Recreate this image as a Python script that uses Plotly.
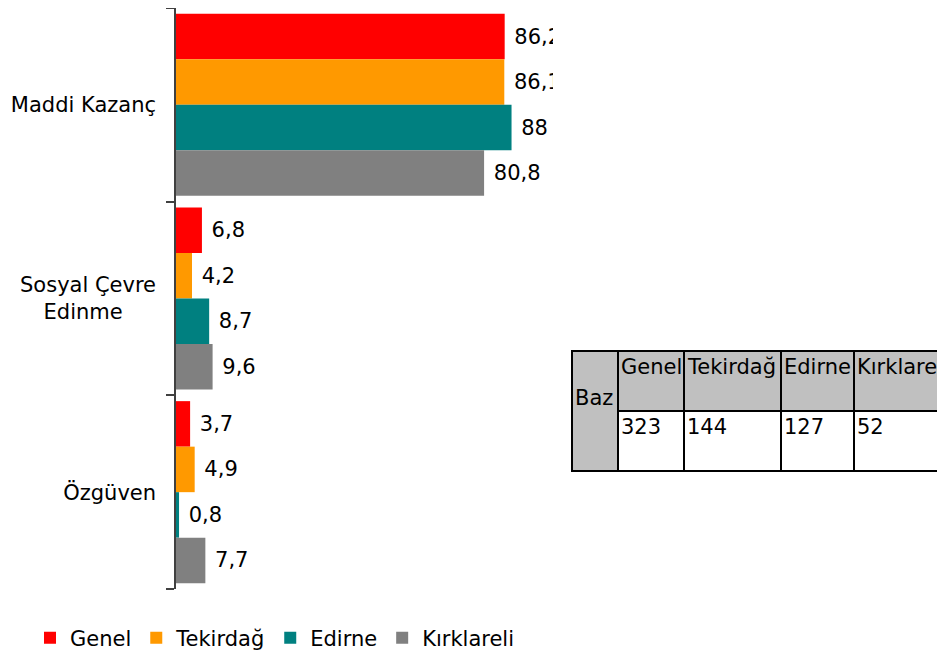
import plotly.graph_objects as go

categories = ["Maddi Kazanç", "Sosyal Çevre Edinme", "Özgüven"]
category_labels = ["Maddi Kazanç", "Sosyal Çevre<br>Edinme" + "\u00a0" * 5, "Özgüven"]
series_names = ["Genel", "Tekirdağ", "Edirne", "Kırklareli"]
genel = [86.2, 6.8, 3.7]
tekirdag = [86.1, 4.2, 4.9]
edirne = [88.0, 8.7, 0.8]
kirklareli = [80.8, 9.6, 7.7]
colors = ["#FF0000", "#FF9900", "#008080", "#808080"]

table_header = ["Genel", "Tekirdağ", "Edirne", "Kırklareli"]
table_values = ["323", "144", "127", "52"]
table_row_label = "Baz"

FONT = "DejaVu Sans, Verdana, sans-serif"
FS = 21

def fmt(v):
    s = f"{v:g}".replace(".", ",")
    return " " + s

fig = go.Figure()
for name, vals, col in zip(series_names, [genel, tekirdag, edirne, kirklareli], colors):
    fig.add_trace(go.Bar(
        name=name, y=categories, x=vals, orientation="h",
        marker=dict(color=col, line=dict(width=0)),
        text=[fmt(v) for v in vals], textposition="outside",
        textfont=dict(family=FONT, size=FS, color="#000000"),
        constraintext="none", cliponaxis=True,
    ))

# the page body adds an 8px offset; figure coords = screen coords - 8
OFF = 8
FW, FH = 945 - OFF, 654 - OFF
L, R, T, B = 176 - OFF, 553 - OFF, 8 - OFF, 589 - OFF
W, H = R - L, B - T

def px(x):
    # x in screen pixels -> paper
    return (x - OFF - L) / W

def py(y):
    return (B - (y - OFF)) / H

shapes = []
annotations = []
col_edges = [572, 618, 684, 781, 854, 960]
row_edges = [351, 411, 471]
shapes.append(dict(type="rect", xref="paper", yref="paper",
                   x0=px(col_edges[0]), x1=px(col_edges[1]), y0=py(row_edges[2]), y1=py(row_edges[0]),
                   fillcolor="#C0C0C0", line=dict(color="#000000", width=2), layer="above"))
for i in range(4):
    x0, x1 = col_edges[i + 1], col_edges[i + 2]
    shapes.append(dict(type="rect", xref="paper", yref="paper",
                       x0=px(x0), x1=px(x1), y0=py(row_edges[1]), y1=py(row_edges[0]),
                       fillcolor="#C0C0C0", line=dict(color="#000000", width=2), layer="above"))
    shapes.append(dict(type="rect", xref="paper", yref="paper",
                       x0=px(x0), x1=px(x1), y0=py(row_edges[2]), y1=py(row_edges[1]),
                       fillcolor="#FFFFFF", line=dict(color="#000000", width=2), layer="above"))
    annotations.append(dict(xref="paper", yref="paper", x=px(x0 + 1), y=py(row_edges[0] + 2),
                            text=table_header[i], showarrow=False, xanchor="left", yanchor="top",
                            font=dict(family=FONT, size=FS, color="#000000")))
    annotations.append(dict(xref="paper", yref="paper", x=px(x0 + 1), y=py(row_edges[1] + 2),
                            text=table_values[i], showarrow=False, xanchor="left", yanchor="top",
                            font=dict(family=FONT, size=FS, color="#000000")))
annotations.append(dict(xref="paper", yref="paper", x=px(col_edges[0] + 1), y=py(398),
                        text=table_row_label, showarrow=False, xanchor="left", yanchor="middle",
                        font=dict(family=FONT, size=FS, color="#000000")))

fig.update_layout(
    width=FW, height=FH,
    margin=dict(l=L, r=FW - R, t=T, b=FH - B, autoexpand=False),
    paper_bgcolor="#FFFFFF", plot_bgcolor="#FFFFFF",
    barmode="group", bargap=0.06, bargroupgap=0,
    font=dict(family=FONT, size=FS, color="#000000"),
    showlegend=True,
    legend=dict(orientation="h", x=px(30), y=py(638), xanchor="left", yanchor="middle",
                font=dict(family=FONT, size=FS, color="#000000"), itemwidth=30,
                traceorder="normal", bgcolor="rgba(0,0,0,0)"),
    xaxis=dict(range=[0, W / 3.813], visible=False, showgrid=False, zeroline=False, fixedrange=True),
    yaxis=dict(autorange="reversed", categoryorder="array", categoryarray=categories,
               tickmode="array", tickvals=categories, ticktext=category_labels,
               showline=True, linecolor="#404040", linewidth=1.5,
               ticks="outside", ticklen=8, tickcolor="#404040", tickwidth=1.5,
               tickson="boundaries", showgrid=False, zeroline=False,
               ticklabelstandoff=14,
               tickfont=dict(family=FONT, size=FS, color="#000000")),
    shapes=shapes, annotations=annotations,
)

fig.write_html("out.html")
